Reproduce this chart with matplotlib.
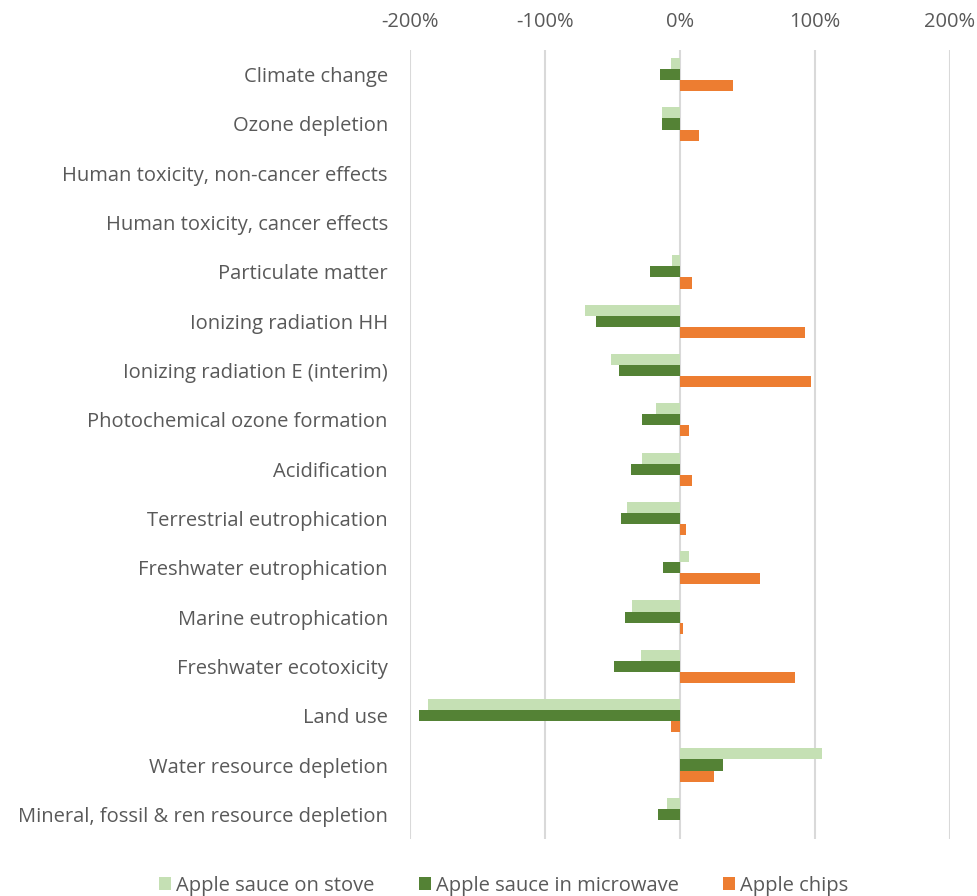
import matplotlib.pyplot as plt
import numpy as np

plt.rcParams['font.family'] = ['Open Sans', 'DejaVu Sans']

categories = [
    "Climate change",
    "Ozone depletion",
    "Human toxicity, non-cancer effects",
    "Human toxicity, cancer effects",
    "Particulate matter",
    "Ionizing radiation HH",
    "Ionizing radiation E (interim)",
    "Photochemical ozone formation",
    "Acidification",
    "Terrestrial eutrophication",
    "Freshwater eutrophication",
    "Marine eutrophication",
    "Freshwater ecotoxicity",
    "Land use",
    "Water resource depletion",
    "Mineral, fossil & ren resource depletion",
]

series_names = ["Apple sauce on stove", "Apple sauce in microwave", "Apple chips"]

# change relative to reference, in %
stove = [-7, -13, 0, 0, -5.6, -70.7, -51, -18, -28.5, -39, 7, -35.7, -28.7, -187, 105.5, -9.5]
microwave = [-15, -13, 0, 0, -22, -62, -45, -28, -36, -43.5, -12.7, -40.4, -49, -193, 31.5, -16]
chips = [39.6, 14.4, 0, 0, 9, 92.5, 96.7, 7, 9, 4.8, 59, 2.4, 85, -6.5, 25, 0]

xticks = [-200, -100, 0, 100, 200]
colors = ["#C5E0B4", "#548235", "#ED7D31"]
text_color = "#595959"

fig = plt.figure(figsize=(9.78, 8.96), dpi=100)
ax = fig.add_axes([410 / 978, 1 - 839 / 896, 540 / 978, 789 / 896])

y = np.arange(len(categories))
h = 0.225
for i, (vals, col, name) in enumerate(zip([stove, microwave, chips], colors, series_names)):
    ax.barh(y + (i - 1) * h, vals, height=h, color=col, label=name,
            edgecolor="none", zorder=3)

ax.set_xlim(-200, 200)
ax.set_ylim(len(categories) - 0.5, -0.5)
ax.set_xticks(xticks)
ax.set_xticklabels([f"{t}%" for t in xticks])
ax.xaxis.tick_top()
ax.tick_params(axis="x", length=0, pad=13, labelsize=14.5, labelcolor=text_color)
ax.set_yticks(y)
ax.set_yticklabels(categories)
ax.tick_params(axis="y", length=0, pad=16, labelsize=14.5, labelcolor=text_color)

ax.grid(axis="x", color="#D9D9D9", linewidth=1.5, zorder=0)
for s in ax.spines.values():
    s.set_visible(False)

fig.legend(loc="lower center", bbox_to_anchor=(0.515, -0.02), ncol=3, frameon=False,
           fontsize=14.5, labelcolor=text_color, handlelength=0.6, handleheight=0.6,
           handletextpad=0.25, columnspacing=2.2)

fig.savefig("out.png", dpi=100)
